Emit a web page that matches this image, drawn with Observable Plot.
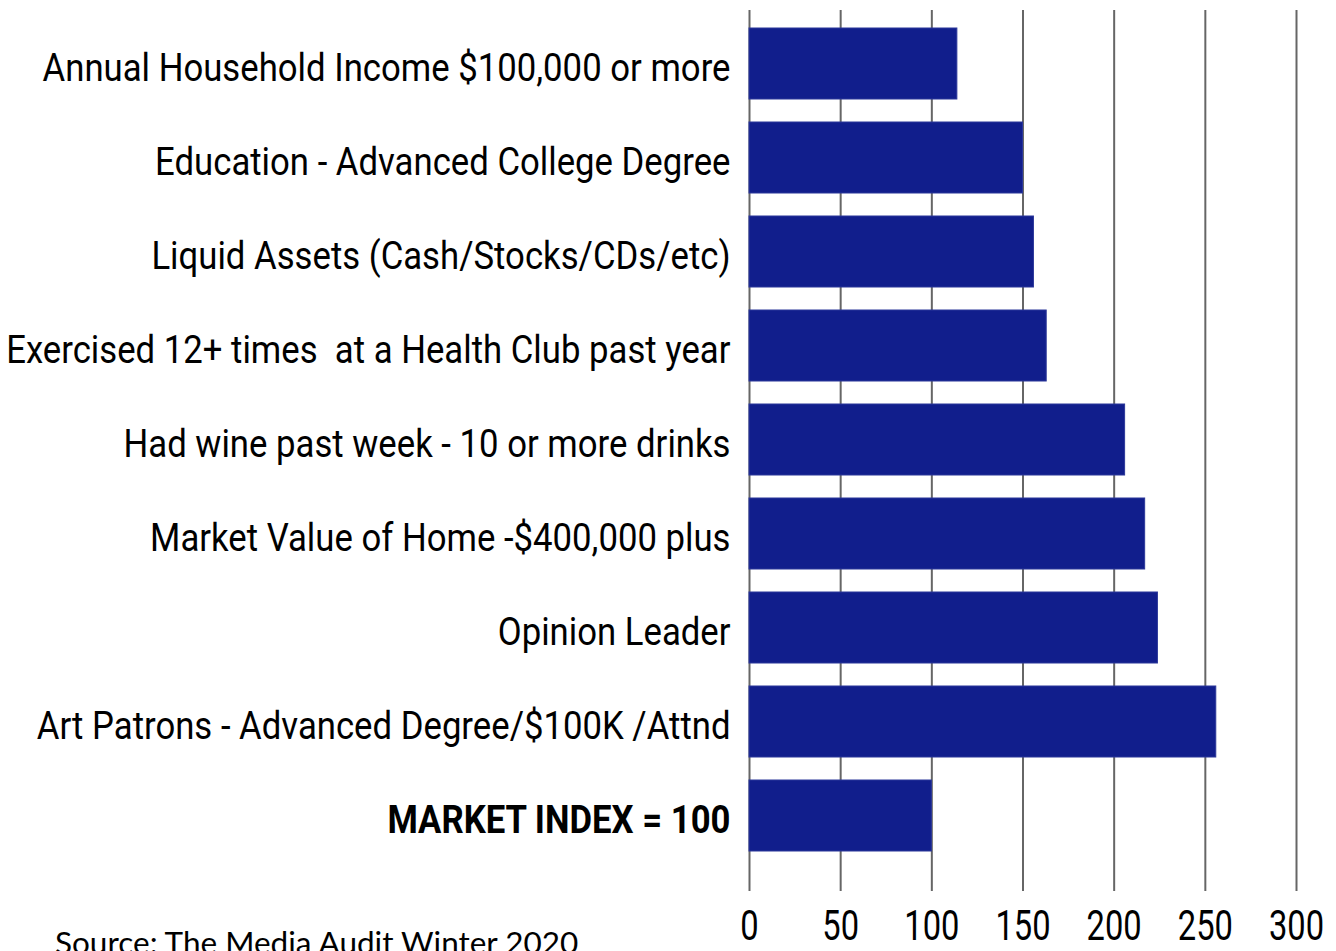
<!DOCTYPE html>
<html>
<head>
<meta charset="utf-8">
<script src="https://cdn.jsdelivr.net/npm/d3@7"></script>
<script src="https://cdn.jsdelivr.net/npm/@observablehq/plot@0.6"></script>
<style>
  html, body { margin: 0; padding: 0; background: #fff; overflow: hidden; }
  #wrap { position: relative; width: 1336px; height: 951px; }
  #caption { position: absolute; left: 55px; top: 923px; font-family: Lato, "Open Sans", sans-serif; font-size: 31.5px; color: #000; white-space: nowrap; }
</style>
</head>
<body>
<div id="wrap">
  <div id="chart"></div>
  <div id="caption">Source: The Media Audit Winter 2020</div>
</div>
<script>
const categories = [
  "Annual Household Income $100,000 or more",
  "Education - Advanced College Degree",
  "Liquid Assets (Cash/Stocks/CDs/etc)",
  "Exercised 12+ times  at a Health Club past year",
  "Had wine past week - 10 or more drinks",
  "Market Value of Home -$400,000 plus",
  "Opinion Leader",
  "Art Patrons - Advanced Degree/$100K /Attnd",
  "MARKET INDEX = 100"
];
const values = [114, 150, 156, 163, 206, 217, 224, 256, 100];
const boldLabel = "MARKET INDEX = 100";
const xTicks = [0, 50, 100, 150, 200, 250, 300];

const data = categories.map((c, i) => ({category: c, value: values[i]}));
const labelFont = "Roboto, 'DejaVu Sans', sans-serif";

const chart = Plot.plot({
  width: 1336,
  height: 951,
  marginLeft: 749,
  marginRight: 40,
  marginTop: 10,
  marginBottom: 66,
  style: {fontFamily: labelFont, background: "#fff"},
  x: {domain: [0, 300]},
  y: {domain: categories, padding: 0.25, insetTop: -7, insetBottom: 10, axis: null},
  marks: [
    Plot.gridX(xTicks, {stroke: "#666", strokeOpacity: 1, strokeWidth: 2}),
    Plot.barX(data, {y: "category", x: "value", fill: "#111E8C", stroke: "#2B3799", strokeWidth: 1}),
    Plot.axisX(xTicks, {tickSize: 6, tickPadding: 18, fontSize: 43, stroke: "#666", strokeWidth: 2, label: null, fill: "#000"}),
    Plot.text(data.filter(d => d.category !== boldLabel), {
      y: "category", x: 0, text: "category", textAnchor: "end", dx: -19, dy: 5,
      fontSize: 39, fill: "#000"
    }),
    Plot.text(data.filter(d => d.category === boldLabel), {
      y: "category", x: 0, text: "category", textAnchor: "end", dx: -19, dy: 5,
      fontSize: 39, fontWeight: "bold", fill: "#000"
    })
  ]
});
document.getElementById("chart").appendChild(chart);

// Condense glyphs horizontally (the reference uses a condensed face)
function condense(selector, k) {
  d3.select(chart).selectAll(selector).each(function() {
    const L = this.getComputedTextLength();
    this.setAttribute("textLength", (L * k).toFixed(1));
    this.setAttribute("lengthAdjust", "spacingAndGlyphs");
  });
}
condense('g[aria-label="text"] text', 0.89);
condense('g[aria-label="x-axis tick label"] text', 0.76);
</script>
</body>
</html>
